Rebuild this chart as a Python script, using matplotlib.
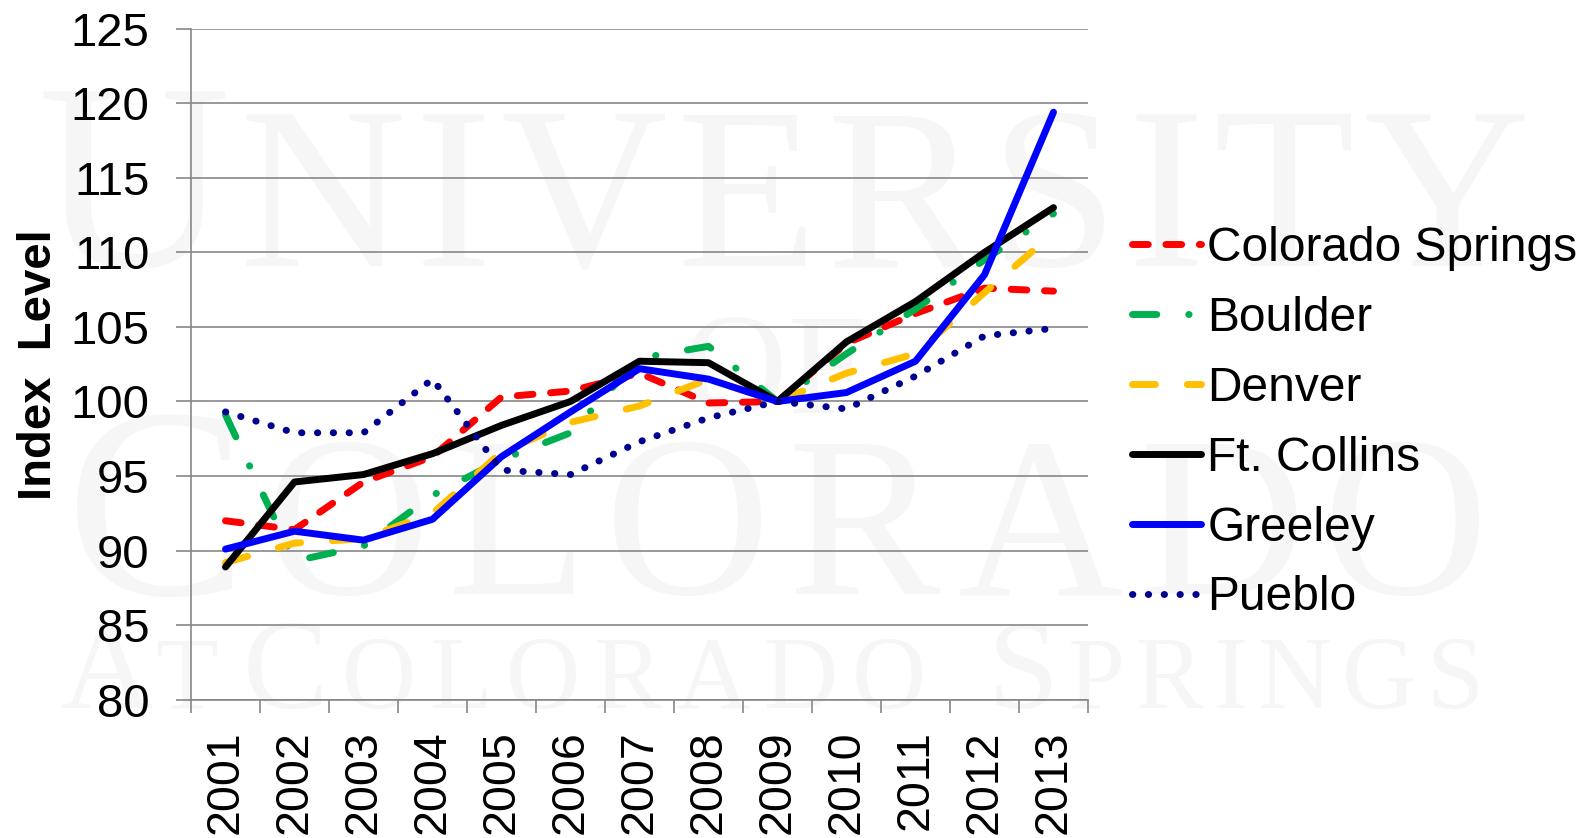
import numpy as np
import matplotlib
matplotlib.use("Agg")
import matplotlib.pyplot as plt
from matplotlib.transforms import IdentityTransform

plt.rcParams['font.family'] = ['Liberation Sans', 'DejaVu Sans']

# Data (index, 2009 = 100)
years = ['2001', '2002', '2003', '2004', '2005', '2006', '2007',
         '2008', '2009', '2010', '2011', '2012', '2013']
colorado_springs = [92.0, 91.4, 94.6, 96.3, 100.3, 100.7, 101.9, 99.9, 100.0, 103.9, 105.9, 107.6, 107.4]
boulder = [99.1, 89.3, 90.3, 93.7, 96.1, 97.9, 102.9, 103.7, 100.0, 103.2, 106.2, 109.5, 112.6]
denver = [89.2, 90.5, 90.8, 92.5, 96.6, 98.6, 99.7, 101.5, 100.0, 101.9, 103.2, 107.3, 111.3]
ft_collins = [88.9, 94.6, 95.1, 96.5, 98.4, 100.0, 102.7, 102.6, 100.0, 104.0, 106.7, 110.0, 113.0]
greeley = [90.1, 91.3, 90.7, 92.1, 96.3, 99.3, 102.2, 101.5, 100.0, 100.6, 102.7, 108.5, 119.4]
pueblo = [99.3, 97.9, 97.9, 101.5, 95.4, 95.1, 97.3, 98.9, 100.0, 99.5, 101.7, 104.4, 104.9]

series = [
    ('Colorado Springs', colorado_springs, '#ff0000', (0, (2.27, 2.54))),
    ('Boulder', boulder, '#00b050', (0, (3.5, 4.6, 0.05, 4.6))),
    ('Denver', denver, '#ffc000', (0, (3.3, 4.6))),
    ('Ft. Collins', ft_collins, '#000000', '-'),
    ('Greeley', greeley, '#0000ff', '-'),
    ('Pueblo', pueblo, '#000090', (0, (0.05, 2.23))),
]

grid_color = '#878787'
wm_color = '#f6f6f6'

fig = plt.figure(figsize=(15.87, 8.38), dpi=100)
ax = fig.add_axes([0.12035, 0.16504, 0.56522, 0.80071])
ax.patch.set_alpha(0)

# faint watermark behind the chart, letter-spaced small caps
renderer = fig.canvas.get_renderer()


def add_word(word, x0, x1, baseline, big, small):
    texts = []
    for i, ch in enumerate(word):
        t = fig.text(0, 838 - baseline, ch, fontsize=big if i == 0 else small,
                     family='Liberation Serif', color=wm_color, zorder=-5,
                     ha='left', va='baseline', transform=IdentityTransform())
        texts.append(t)
    widths = [t.get_window_extent(renderer).width for t in texts]
    gap = (x1 - x0 - sum(widths)) / max(len(texts) - 1, 1)
    x = x0
    for t, w in zip(texts, widths):
        t.set_x(x)
        x += w + gap


add_word('UNIVERSITY', 37, 1530, 266, 192, 166)
add_word('OF', 683, 867, 413, 103, 103)
add_word('COLORADO', 66, 1488, 594, 196, 165)
add_word('AT', 61, 218, 708, 92, 74)
add_word('COLORADO', 243, 926, 708, 92, 74)
add_word('SPRINGS', 987, 1483, 708, 92, 74)

x = np.arange(len(years))
for name, vals, color, ls in series:
    ax.plot(x, vals, color=color, lw=5, linestyle=ls, label=name,
            dash_capstyle='round', solid_capstyle='round',
            dash_joinstyle='round', solid_joinstyle='round')

ax.set_xlim(-0.5, len(years) - 0.5)
ax.set_ylim(80, 125)
ax.set_yticks(range(80, 126, 5))
ax.set_xticks(x, labels=years, rotation=90)
ax.set_xticks(np.arange(-0.5, len(years), 1), minor=True)

ax.tick_params(axis='x', which='major', length=0, pad=22, labelsize=33.5)
ax.tick_params(axis='x', which='minor', length=9.5, width=1.2, color=grid_color)
ax.tick_params(axis='y', length=11, width=1.2, color=grid_color, pad=19, labelsize=34)

ax.yaxis.grid(True, color=grid_color, lw=1.2)
ax.set_axisbelow(True)
for side in ['top', 'right']:
    ax.spines[side].set_visible(False)
for side in ['left', 'bottom']:
    ax.spines[side].set_color(grid_color)
    ax.spines[side].set_linewidth(1.2)

ax.set_ylabel('Index  Level', fontsize=34, fontweight='bold')
ax.yaxis.set_label_coords(-0.1695, 0.5)
ax.yaxis.label.set_va('center')

ax.legend(loc='center left', bbox_to_anchor=(1132 / 1587, 0.495),
          bbox_transform=fig.transFigure, frameon=False, fontsize=34.5,
          handlelength=1.45, handletextpad=0.12, labelspacing=0.52,
          borderpad=0, borderaxespad=0)

fig.savefig('out.png', dpi=100)
